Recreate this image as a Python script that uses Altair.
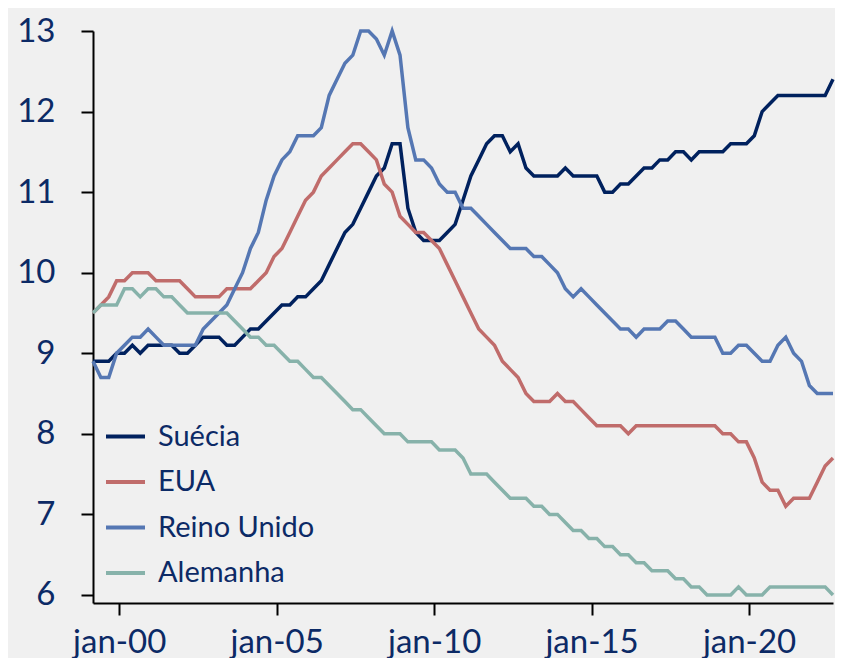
import altair as alt
import pandas as pd

# ---------------- data (quarterly, Mar 1999 .. Sep 2022) ----------------
countries = ["Suécia", "EUA", "Reino Unido", "Alemanha"]
colors = ["#00215e", "#c06c6b", "#5577b3", "#87b2aa"]

periods = [(y, m) for y in range(1999, 2023) for m in (3, 6, 9, 12) if (y, m) <= (2022, 9)]

suecia = [
    8.9, 8.9, 8.9, 9.0, 9.0, 9.1, 9.0, 9.1, 9.1, 9.1,
    9.1, 9.0, 9.0, 9.1, 9.2, 9.2, 9.2, 9.1, 9.1, 9.2,
    9.3, 9.3, 9.4, 9.5, 9.6, 9.6, 9.7, 9.7, 9.8, 9.9,
    10.1, 10.3, 10.5, 10.6, 10.8, 11.0, 11.2, 11.3, 11.6, 11.6,
    10.8, 10.5, 10.4, 10.4, 10.4, 10.5, 10.6, 10.9, 11.2, 11.4,
    11.6, 11.7, 11.7, 11.5, 11.6, 11.3, 11.2, 11.2, 11.2, 11.2,
    11.3, 11.2, 11.2, 11.2, 11.2, 11.0, 11.0, 11.1, 11.1, 11.2,
    11.3, 11.3, 11.4, 11.4, 11.5, 11.5, 11.4, 11.5, 11.5, 11.5,
    11.5, 11.6, 11.6, 11.6, 11.7, 12.0, 12.1, 12.2, 12.2, 12.2,
    12.2, 12.2, 12.2, 12.2, 12.4,
]
eua = [
    9.5, 9.6, 9.7, 9.9, 9.9, 10.0, 10.0, 10.0, 9.9, 9.9,
    9.9, 9.9, 9.8, 9.7, 9.7, 9.7, 9.7, 9.8, 9.8, 9.8,
    9.8, 9.9, 10.0, 10.2, 10.3, 10.5, 10.7, 10.9, 11.0, 11.2,
    11.3, 11.4, 11.5, 11.6, 11.6, 11.5, 11.4, 11.1, 11.0, 10.7,
    10.6, 10.5, 10.5, 10.4, 10.3, 10.1, 9.9, 9.7, 9.5, 9.3,
    9.2, 9.1, 8.9, 8.8, 8.7, 8.5, 8.4, 8.4, 8.4, 8.5,
    8.4, 8.4, 8.3, 8.2, 8.1, 8.1, 8.1, 8.1, 8.0, 8.1,
    8.1, 8.1, 8.1, 8.1, 8.1, 8.1, 8.1, 8.1, 8.1, 8.1,
    8.0, 8.0, 7.9, 7.9, 7.7, 7.4, 7.3, 7.3, 7.1, 7.2,
    7.2, 7.2, 7.4, 7.6, 7.7,
]
reino_unido = [
    8.9, 8.7, 8.7, 9.0, 9.1, 9.2, 9.2, 9.3, 9.2, 9.1,
    9.1, 9.1, 9.1, 9.1, 9.3, 9.4, 9.5, 9.6, 9.8, 10.0,
    10.3, 10.5, 10.9, 11.2, 11.4, 11.5, 11.7, 11.7, 11.7, 11.8,
    12.2, 12.4, 12.6, 12.7, 13.0, 13.0, 12.9, 12.7, 13.0, 12.7,
    11.8, 11.4, 11.4, 11.3, 11.1, 11.0, 11.0, 10.8, 10.8, 10.7,
    10.6, 10.5, 10.4, 10.3, 10.3, 10.3, 10.2, 10.2, 10.1, 10.0,
    9.8, 9.7, 9.8, 9.7, 9.6, 9.5, 9.4, 9.3, 9.3, 9.2,
    9.3, 9.3, 9.3, 9.4, 9.4, 9.3, 9.2, 9.2, 9.2, 9.2,
    9.0, 9.0, 9.1, 9.1, 9.0, 8.9, 8.9, 9.1, 9.2, 9.0,
    8.9, 8.6, 8.5, 8.5, 8.5,
]
alemanha = [
    9.5, 9.6, 9.6, 9.6, 9.8, 9.8, 9.7, 9.8, 9.8, 9.7,
    9.7, 9.6, 9.5, 9.5, 9.5, 9.5, 9.5, 9.5, 9.4, 9.3,
    9.2, 9.2, 9.1, 9.1, 9.0, 8.9, 8.9, 8.8, 8.7, 8.7,
    8.6, 8.5, 8.4, 8.3, 8.3, 8.2, 8.1, 8.0, 8.0, 8.0,
    7.9, 7.9, 7.9, 7.9, 7.8, 7.8, 7.8, 7.7, 7.5, 7.5,
    7.5, 7.4, 7.3, 7.2, 7.2, 7.2, 7.1, 7.1, 7.0, 7.0,
    6.9, 6.8, 6.8, 6.7, 6.7, 6.6, 6.6, 6.5, 6.5, 6.4,
    6.4, 6.3, 6.3, 6.3, 6.2, 6.2, 6.1, 6.1, 6.0, 6.0,
    6.0, 6.0, 6.1, 6.0, 6.0, 6.0, 6.1, 6.1, 6.1, 6.1,
    6.1, 6.1, 6.1, 6.1, 6.0,
]

x_tick_years = [2000, 2005, 2010, 2015, 2020]
y_ticks = [6, 7, 8, 9, 10, 11, 12, 13]

# ---------------- build table ----------------
x_vals = [y + (m - 1) / 12 for (y, m) in periods]
rows = []
for k, (name, vals) in enumerate(zip(countries, [suecia, eua, reino_unido, alemanha])):
    for x, v in zip(x_vals, vals):
        rows.append({"t": x, "valor": v, "serie": name, "ordem": k})
df = pd.DataFrame(rows)

TEXT = "#0c2a66"
FONT = "Lato"

chart = (
    alt.Chart(df)
    .mark_line(strokeWidth=3.5)
    .encode(
        x=alt.X(
            "t:Q",
            title=None,
            scale=alt.Scale(domain=[x_vals[0], x_vals[-1]], nice=False, zero=False),
            axis=alt.Axis(
                values=x_tick_years,
                labelExpr="'jan-' + (datum.value % 100 < 10 ? '0' : '') + (datum.value % 100)",
                grid=False,
                domainColor="#000000",
                domainWidth=2,
                tickColor="#000000",
                tickWidth=2,
                tickSize=12,
                labelFontSize=33,
                labelColor=TEXT,
                labelFont=FONT,
                labelPadding=11,
            ),
        ),
        y=alt.Y(
            "valor:Q",
            title=None,
            scale=alt.Scale(domain=[5.9, 13], nice=False, zero=False),
            axis=alt.Axis(
                values=y_ticks,
                grid=False,
                domainColor="#000000",
                domainWidth=2,
                tickColor="#000000",
                tickWidth=2,
                tickSize=12,
                labelFontSize=33,
                labelColor=TEXT,
                labelFont=FONT,
                labelPadding=26,
            ),
        ),
        color=alt.Color(
            "serie:N",
            scale=alt.Scale(domain=countries, range=colors),
            legend=alt.Legend(
                title=None,
                orient="none",
                legendX=11,
                legendY=384,
                symbolType="stroke",
                symbolSize=1521,
                symbolStrokeWidth=4,
                labelFontSize=29,
                labelColor=TEXT,
                labelFont=FONT,
                labelOffset=11,
                rowPadding=8.5,
                padding=0,
            ),
        ),
        order=alt.Order("ordem:Q"),
    )
    .properties(
        width=740,
        height=572,
        padding={"left": 85, "top": 23, "right": 2, "bottom": 55},
        autosize=alt.AutoSizeParams(type="none"),
        background="#f0f0f0",
    )
    .configure_view(stroke=None)
)

chart.save("out.html", embed_options={"renderer": "svg", "actions": False})
